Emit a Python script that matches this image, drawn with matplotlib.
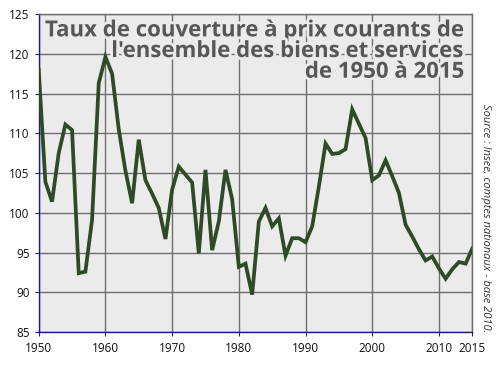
import matplotlib
matplotlib.use("Agg")
import matplotlib.pyplot as plt
import matplotlib.patheffects as pe

# Taux de couverture (exportations / importations, en %), 1950-2015
years = list(range(1950, 2016))
rates = [
    118.0, 103.9, 101.4, 107.5, 111.1, 110.4, 92.4, 92.6, 99.1, 116.3,
    119.6, 117.5, 110.5, 105.3, 101.2, 109.2, 104.1, 102.4, 100.6, 96.7,
    102.9, 105.8, 104.8, 103.8, 94.9, 105.4, 95.3, 98.9, 105.4, 101.7,
    93.2, 93.6, 89.7, 98.9, 100.6, 98.3, 99.3, 94.6, 96.8, 96.8,
    96.3, 98.3, 103.3, 108.7, 107.4, 107.5, 108.0, 113.0, 111.2, 109.4,
    104.1, 104.7, 106.6, 104.6, 102.5, 98.5, 97.0, 95.4, 94.0, 94.5,
    93.0, 91.7, 92.9, 93.8, 93.6, 95.5,
]
x_ticks = [1950, 1960, 1970, 1980, 1990, 2000, 2010, 2015]
y_ticks = list(range(85, 126, 5))

title = "Taux de couverture à prix courants de\nl'ensemble des biens et services\nde 1950 à 2015"
source = "Source : Insee, comptes nationaux - base 2010."

bg = "#ebebeb"
navy = "#1c1c7a"

fig = plt.figure(figsize=(5, 3.65), dpi=100)
ax = fig.add_axes([0.0774, 0.0904, 0.8672, 0.8712])
ax.set_facecolor(bg)

ax.plot(years, rates, color="#2e4a26", lw=2.7, zorder=3, solid_joinstyle="miter")

ax.set_xlim(1950, 2015)
ax.set_ylim(85, 125)
ax.set_xticks(x_ticks)
ax.set_yticks(y_ticks)
ax.grid(color="#6e6e6e", lw=1.0, zorder=1)
ax.set_axisbelow(True)

for s in ["top", "right"]:
    ax.spines[s].set_color("#6e6e6e")
    ax.spines[s].set_linewidth(1.0)
for s in ["left", "bottom"]:
    ax.spines[s].set_color(navy)
    ax.spines[s].set_linewidth(1.0)

ax.tick_params(axis="both", colors=navy, length=3, width=0.8, labelsize=8.5,
               labelcolor="#111111")
ax.tick_params(axis="x", pad=4)
for lab in ax.get_xticklabels() + ax.get_yticklabels():
    lab.set_family("Open Sans")

ax.text(0.982, 0.98, title, transform=ax.transAxes, ha="right", va="top",
        fontsize=16, fontweight="bold", family="Open Sans", color="#575757",
        linespacing=0.98, zorder=4,
        path_effects=[pe.withStroke(linewidth=4, foreground=bg)])

fig.text(0.972, 0.403, source, rotation=-90, ha="center", va="center",
         fontsize=8, style="italic", family="Open Sans", color="#333333")

fig.savefig("out.png", dpi=100)
